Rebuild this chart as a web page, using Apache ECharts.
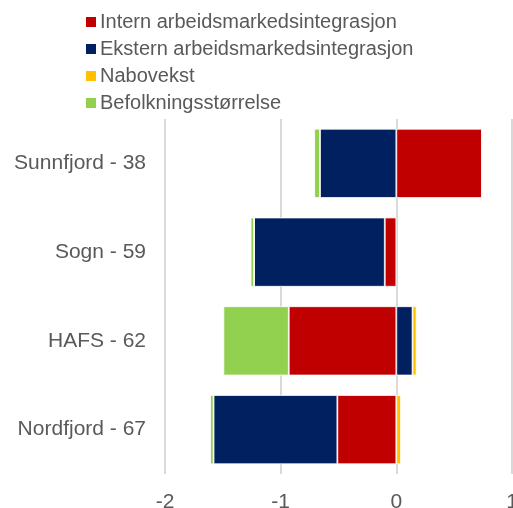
<!DOCTYPE html>
<html>
<head>
<meta charset="utf-8">
<script src="https://cdn.jsdelivr.net/npm/echarts@6/dist/echarts.min.js"></script>
<style>
  html, body { margin: 0; padding: 0; background: #fff; }
  #chart { width: 513px; height: 508px; }
</style>
</head>
<body>
<div id="chart"></div>
<script>
// Regions, listed top to bottom
const regions = ['Sunnfjord - 38', 'Sogn - 59', 'HAFS - 62', 'Nordfjord - 67'];

// Contribution of each factor per region
const internIntegrasjon = [0.74, -0.10, -0.93, -0.51];
const eksternIntegrasjon = [-0.66, -1.13, 0.14, -1.07];
const nabovekst = [0.005, 0.0, 0.035, 0.04];
const befolkningsstorrelse = [-0.05, -0.03, -0.565, -0.03];

const xTicks = [-2, -1, 0, 1];

const seriesDefs = [
  { name: 'Intern arbeidsmarkedsintegrasjon', data: internIntegrasjon, color: '#C00000' },
  { name: 'Ekstern arbeidsmarkedsintegrasjon', data: eksternIntegrasjon, color: '#002060' },
  { name: 'Nabovekst', data: nabovekst, color: '#FFC000' },
  { name: 'Befolkningsstørrelse', data: befolkningsstorrelse, color: '#92D050' }
];

const textColor = '#595959';
const fontFamily = 'Liberation Sans, Arial, sans-serif';

const chart = echarts.init(document.getElementById('chart'), null, { renderer: 'canvas' });

chart.setOption({
  animation: false,
  textStyle: { fontFamily: fontFamily, color: textColor },
  legend: {
    orient: 'vertical',
    left: 79,
    top: 7,
    itemWidth: 12,
    itemHeight: 12,
    itemGap: 7,
    icon: 'rect',
    textStyle: { fontSize: 20, color: textColor, fontFamily: fontFamily, padding: [0, 0, 0, -2] },
    data: seriesDefs.map(s => s.name)
  },
  grid: {
    left: 165,
    right: 1,
    top: 119,
    bottom: 34,
    containLabel: false,
    outerBoundsMode: 'none'
  },
  xAxis: {
    type: 'value',
    min: xTicks[0],
    max: xTicks[xTicks.length - 1],
    interval: 1,
    axisLine: { show: false },
    axisTick: { show: false },
    splitLine: { show: true, lineStyle: { color: '#d9d9d9', width: 2 } },
    axisLabel: { fontSize: 21, color: textColor, margin: 18, fontFamily: fontFamily }
  },
  yAxis: {
    type: 'category',
    inverse: true,
    data: regions,
    axisLine: { show: false },
    axisTick: { show: false },
    axisLabel: { fontSize: 21, color: textColor, margin: 19, fontFamily: fontFamily }
  },
  series: seriesDefs.map(s => ({
    name: s.name,
    type: 'bar',
    stack: 'total',
    barCategoryGap: '22%',
    data: s.data,
    itemStyle: { color: s.color, borderColor: '#ffffff', borderWidth: 0.8 }
  }))
});
</script>
</body>
</html>
